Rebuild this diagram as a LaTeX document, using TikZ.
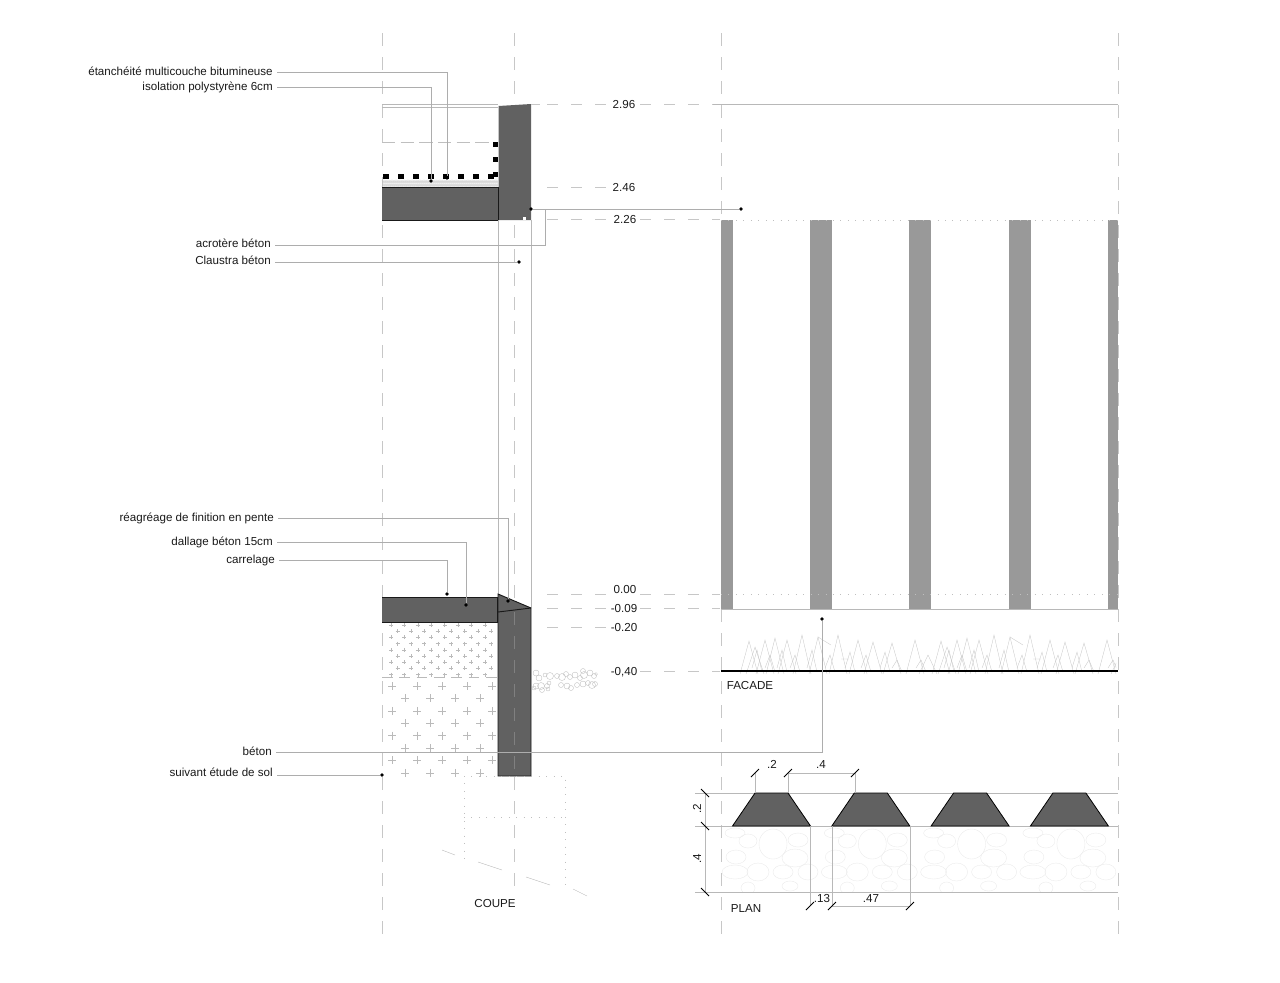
\documentclass[tikz,border=0pt]{standalone}
\usepackage{fontspec}
\setmainfont{Liberation Sans}
\begin{document}
\begin{tikzpicture}[
        x=0.75pt, y=-0.75pt,
        every node/.style={font=\fontsize{8.7}{10}\selectfont, inner sep=0pt, text=black!90},
        note/.style={anchor=east, text height=7.2pt, text depth=2pt},
        level/.style={anchor=center},
        leader/.style={draw=black!32, line width=0.3pt},
        axis/.style={draw=black!22, line width=0.35pt, dash pattern=on 10pt off 8pt},
        levelline/.style={draw=black!22, line width=0.35pt, dash pattern=on 8.25pt off 9.75pt},
        thin line/.style={draw=black!28, line width=0.3pt},
        dotline/.style={draw=black!25, line width=0.4pt, dash pattern=on 0.6pt off 5pt},
        dot/.style={circle, fill=black, minimum size=2.8pt},
        concrete/.style={fill=black!62, draw=none},
        outline/.style={draw=black!90, line width=0.7pt},
        pillar/.style={fill=black!40, draw=none},
        soil/.style={draw=black!27, line width=0.25pt},
        grass/.style={draw=black!22, line width=0.25pt},
        stone/.style={draw=black!8, line width=0.3pt},
        tick/.style={draw=black, line width=0.6pt}
    ]
    \useasboundingbox (0,0) rectangle (1280,982);
    % Axes
    \foreach \x/\e in {382/938,514/888,721/938,1118/938}
        \draw[axis] (\x,33) -- (\x,\e);
    % Soil
    \foreach \r in {0,...,8}
        \foreach \c in {0,...,7}
            \draw[soil] ({391+\c*13.4+mod(\r,2)*6.5-2},{625+\r*6.2}) -- ++(4,0) ++(-2,-2) -- ++(0,4);
    \draw[soil, dash pattern=on 8pt off 5pt] (382,677) -- (497,677);
    \foreach \r in {0,2,4,6}
        \foreach \c in {0,...,4}
            \draw[soil] ({392+\c*25-4},{686+\r*12.4}) -- ++(8,0) ++(-4,-4) -- ++(0,8);
    \foreach \r in {1,3,5,7}
        \foreach \c in {0,...,3}
            \draw[soil] ({405+\c*25-4},{686+\r*12.4}) -- ++(8,0) ++(-4,-4) -- ++(0,8);
    \foreach \x/\y/\r in {536/673/3,539/678/3,545/675/2,550/676/3.5,557/676/2.5,562/677/3.5,566/674/2.5,570/677/2.5,575/675/3,
                          580/678/2.5,584/675/3.5,590/673/3,594/676/2.5,583/671/2.5,596/674/1.5,
                          536/686/3,541/686/3.5,547/686/2.5,549/683/2,534/688/2,561/685/2.5,567/686/3,
                          571/688/2.5,577/685/2.5,583/684/3,588/683/2.5,592/685/3.5,595/684/2.5,548/689/2,542/690/2.5}
        \draw[soil] (\x,\y) circle (\r);
    % Fills
    \fill[concrete] (382,187) rectangle (498,220);
    \fill[concrete] (498.5,106) -- (531,104) -- (531,220) -- (498.5,220) -- cycle;
    \fill[white] (522.5,217) rectangle (525.5,220);
    \fill[concrete] (382,597) rectangle (497,622);
    \fill[concrete] (498,594) -- (531,608) -- (531,776) -- (498,776) -- cycle;
    \draw[draw=black!50, line width=0.3pt, dash pattern=on 10pt off 8pt] (514,612) -- (514,776);
    \foreach \x/\w in {720.7/12.3,810/22,909/22,1009/22,1108/10.4}
        \fill[pillar] (\x,220) rectangle (\x+\w,609);
    % Levels
    \node[level] (lvlA) at (624,105) {2.96};
    \node[level] (lvlB) at (624,188) {2.46};
    \node[level] (lvlC) at (625,220) {2.26};
    \node[level] (lvlD) at (625,589) {0.00};
    \node[level] (lvlE) at (624,608) {-0.09};
    \node[level] (lvlF) at (624,627) {-0.20};
    \node[level] (lvlG) at (624,672) {-0,40};
    \foreach \y in {104,219,594,608}
        \draw[levelline] (547,\y) -- (608,\y) (640,\y) -- (720,\y);
    \draw[levelline] (547,187) -- (608,187);
    \draw[levelline] (547,627) -- (608,627);
    \draw[levelline] (640,671) -- (720,671);
    \draw[levelline] (531,104) -- (540,104);
    \draw[thin line] (713,104) -- (1118,104);
    % Roof section
    \draw[thin line] (382,104) -- (498,104);
    \draw[thin line] (382,107) -- (498,107);
    \draw[draw=black!25, line width=0.3pt, dash pattern=on 10pt off 4pt] (382,142) -- (493,142);
    \foreach \x in {382,386,...,494}
        \draw[soil] (\x,187) -- (\x+2,180) -- (\x+4,187) (\x,180) -- (\x+2,187) -- (\x+4,180);
    \draw[draw=black, line width=4pt, dash pattern=on 4.6pt off 6.65pt] (383,176.5) -- (498,176.5);
    \draw[draw=black, line width=4pt, dash pattern=on 3.9pt off 7.35pt] (495.8,142) -- (495.8,178);
    \draw[outline] (382,187) -- (498.5,187) -- (498.5,220);
    \draw[outline] (382,220) -- (498.5,220);
    % Wall and floor section
    \draw[thin line] (498.5,220) -- (498.5,594);
    \draw[thin line] (531,220) -- (531,608);
    \draw[outline] (382,597) -- (497,597) -- (497,622) -- (382,622);
    \draw[outline] (498,776) -- (498,594) -- (531,608) -- (531,776) -- cycle;
    \draw[outline] (498,612) -- (531,608);
    % Footing
    \draw[dotline] (464,776) -- (464,860);
    \draw[dotline] (464,776) -- (565,776) -- (565,890);
    \draw[dotline] (464,817) -- (565,817);
    \draw[thin line] (442,850) -- (455,855);
    \draw[thin line] (478,862) -- (502,870);
    \draw[thin line] (526,877) -- (550,885);
    \draw[thin line] (573,889) -- (587,896);
    \node (coupe) at (495,903) {COUPE};
    % Facade
    \draw[dotline] (721,220) -- (1118,220);
    \draw[dotline] (721,594) -- (1118,594);
    \draw[thin line] (721,609) -- (1118,609);
    \begin{scope}
        \clip (740,620) rectangle (1116,676);
        \foreach \s in {0,192} {
            \foreach \p/\h in {749/641,755/647,765/640,775/638,787/640,802/635,818/637,838/635,858/640,873/642,892/643,915/640,928/655}
                \draw[grass] (\s+\p-9,674) -- (\s+\p,\h) -- (\s+\p+9,674);
            \foreach \p/\h in {757/650,770/655,782/650,795/655,812/650,830/655,850/652,866/655,885/652,897/660,921/660}
                \draw[grass] (\s+\p-5,668) -- (\s+\p,\h) -- (\s+\p+5,672);
            \draw[grass] (\s+818,637) -- (\s+831,645) (\s+841,659) -- (\s+849,659);
        }
    \end{scope}
    \draw[draw=black, line width=1.1pt] (721,671) -- (1118,671);
    \node (facade) at (750,685) {FACADE};
    % Plan
    \begin{scope}
        \clip (721,826) rectangle (1118,892);
        \foreach \s in {0,99.3,198.6,297.9}
            \foreach \x/\y/\a/\b in {773/844/14/15,748/841/9/7,736/857/10/7,798/840/10/7,795/858/13/9,735/872/13/7,
                                     758/872/11/9,783/872/10/7,808/872/10/8,748/888/7/6,790/886/8/5,735/833/10/5}
                \draw[stone] (\x+\s,\y) ellipse ({\a} and {\b});
    \end{scope}
    \draw[thin line] (695,793) -- (1118,793);
    \draw[thin line] (695,826) -- (1118,826);
    \draw[thin line] (695,892) -- (1118,892);
    \foreach \x in {0,99.3,198.6,297.9}
        \draw[fill=black!62, draw=black, line width=0.6pt] (732.5+\x,826) -- (755+\x,793) -- (788+\x,793) -- (810.5+\x,826) -- cycle;
    % Plan dimensions
    \draw[thin line] (755,773) -- (755,793);
    \draw[thin line] (788,773) -- (788,793);
    \draw[thin line] (855,773) -- (855,793);
    \draw[thin line] (788,773) -- (855,773);
    \draw[thin line] (705,793) -- (705,892);
    \draw[thin line] (810.5,826) -- (810.5,906);
    \draw[thin line] (832,826) -- (832,906);
    \draw[thin line] (910,826) -- (910,906);
    \draw[thin line] (832,906) -- (910,906);
    \foreach \x/\y in {755/773,788/773,855/773,810/906,832/906,910/906}
        \draw[tick] (\x-4,\y+4) -- (\x+4,\y-4);
    \foreach \y in {793,826,892}
        \draw[tick] (701,\y-4) -- (709,\y+4);
    \node (dimA) at (772,764) {.2};
    \node (dimB) at (821,764) {.4};
    \node[rotate=90] (dimC) at (697,809) {.2};
    \node[rotate=90] (dimD) at (697,859) {.4};
    \node (dimE) at (822,898) {.13};
    \node (dimF) at (871,898) {.47};
    \node (plan) at (746,908) {PLAN};
    % Notes
    \node[note] (etanch) at (273,72) {étanchéité multicouche bitumineuse};
    \node[note] (isol) at (273,87) {isolation polystyrène 6cm};
    \node[note] (acrotere) at (271,244) {acrotère béton};
    \node[note] (claustra) at (271,261) {Claustra béton};
    \node[note] (reagreage) at (274,518) {réagréage de finition en pente};
    \node[note] (dallage) at (273,542) {dallage béton 15cm};
    \node[note] (carrelage) at (275,560) {carrelage};
    \node[note] (beton) at (272,752) {béton};
    \node[note] (suivant) at (273,773) {suivant étude de sol};
    % Dots
    \node[dot] (dEtanch) at (447,178) {};
    \node[dot] (dIsol) at (431,181) {};
    \node[dot] (dAcroL) at (531,209) {};
    \node[dot] (dAcroR) at (741,209) {};
    \node[dot] (dClaustra) at (519,262) {};
    \node[dot] (dReagr) at (508,601) {};
    \node[dot] (dDallage) at (466,605) {};
    \node[dot] (dCarrel) at (447,594) {};
    \node[dot] (dBeton) at (822,619) {};
    \node[dot] (dSuivant) at (382,775) {};
    \coordinate (cAcro) at (545.5,209);
    \coordinate (cAcroLine) at (280,245);
    % Leaders
    \draw[leader] ([xshift=3pt]etanch.east) -| (dEtanch);
    \draw[leader] ([xshift=3pt]isol.east) -| (dIsol);
    \draw[leader] ([xshift=3pt]acrotere.east |- cAcroLine) -| (cAcro);
    \draw[leader] (dAcroL) -- (dAcroR);
    \draw[leader] ([xshift=3pt]claustra.east |- dClaustra) -- (dClaustra);
    \draw[leader] ([xshift=3pt]reagreage.east) -| (dReagr);
    \draw[leader] ([xshift=3pt]dallage.east) -| (dDallage);
    \draw[leader] ([xshift=3pt]carrelage.east) -| (dCarrel);
    \draw[leader] ([xshift=3pt]beton.east) -| (dBeton);
    \draw[leader] ([xshift=3pt]suivant.east |- dSuivant) -- (dSuivant);
\end{tikzpicture}
\end{document}
